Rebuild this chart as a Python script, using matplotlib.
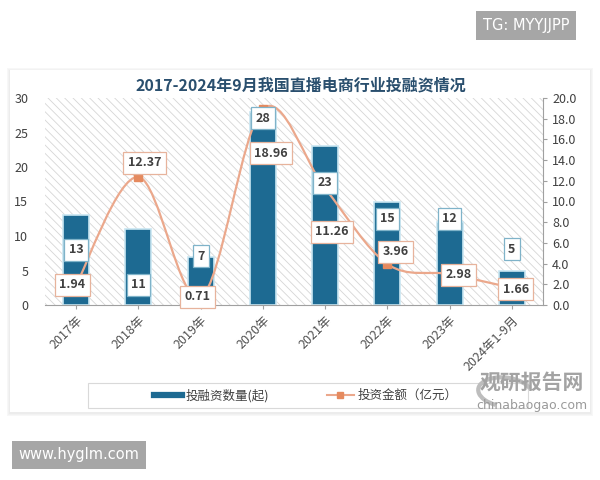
import matplotlib
matplotlib.use("Agg")
import matplotlib.pyplot as plt
from matplotlib.patches import Rectangle, Arc
from matplotlib.path import Path
from matplotlib.patches import PathPatch
from matplotlib.lines import Line2D
import numpy as np

plt.rcParams['font.family'] = ['Noto Sans CJK SC', 'DejaVu Sans']
plt.rcParams['hatch.linewidth'] = 0.6

# ---------------- data ----------------
categories = ['2017年', '2018年', '2019年', '2020年', '2021年', '2022年', '2023年', '2024年1-9月']
deal_counts = [13, 11, 7, 28, 23, 15, 12, 5]
invest_amounts = [1.94, 12.37, 0.71, 18.96, 11.26, 3.96, 2.98, 1.66]
title = '2017-2024年9月我国直播电商行业投融资情况'
legend_labels = ['投融资数量(起)', '投资金额（亿元）']

# ---------------- layout (label placement, left-axis units) ----------------
bar_label_y = [8.0, 2.9, 7.1, 27.1, 17.7, 12.5, 12.5, 8.1]
line_label_y = [2.9, 20.6, 1.2, 22.0, 10.6, 7.7, 4.35, 2.3]
line_label_dx = [-0.06, 0.10, -0.05, 0.13, 0.11, 0.13, 0.14, 0.06]

BAR_C = '#1d6a92'
LINE_C = '#eba88c'
MARK_C = '#e58a5f'
TXT_C = '#404040'

fig = plt.figure(figsize=(6, 4.8), dpi=100)
fig.patch.set_facecolor('white')

def fx(px):
    return px / 600.0

def fy(py):
    return 1 - py / 480.0

# card with soft shadow
for k, c in enumerate(['#f7f7f7', '#f2f2f2', '#ececec']):
    d = 3 - k
    fig.patches.append(Rectangle((fx(10 - d), fy(412 + d + 1)), fx(580 + 2 * d), (342 + 2 * d) / 480,
                                 transform=fig.transFigure, fc=c, ec='none', zorder=0))
fig.patches.append(Rectangle((fx(10), fy(412)), fx(580), 342 / 480, transform=fig.transFigure,
                             fc='white', ec='none', zorder=0.5))

# watermarks
fig.text(fx(526), fy(25.5), 'TG: MYYJJPP', ha='center', va='center', color='white', fontsize=10.5,
         family=['DejaVu Sans'],
         bbox=dict(boxstyle='square,pad=0.45', fc='#a6a6a6', ec='none'))
fig.text(fx(79), fy(455), 'www.hyglm.com', ha='center', va='center', color='white', fontsize=10.5,
         family=['DejaVu Sans'],
         bbox=dict(boxstyle='square,pad=0.45', fc='#a6a6a6', ec='none'))

# main axes
ax = fig.add_axes([fx(45), fy(305), fx(498), 207 / 480])
ax.set_zorder(2)
ax.patch.set_visible(False)
ax.add_patch(Rectangle((0, 0), 1, 1, transform=ax.transAxes, fc='white', ec='#d6d6d6',
                       lw=0, hatch='\\\\\\\\', zorder=0))

x = np.arange(len(categories))
ax.bar(x, deal_counts, width=0.42, color=BAR_C, edgecolor='#c9e6f2', linewidth=1.2, zorder=2)
ax.set_xlim(-0.5, len(categories) - 0.5)
ax.set_ylim(0, 30)
ax.set_yticks(np.arange(0, 31, 5))
for s in ['top', 'left', 'right']:
    ax.spines[s].set_visible(False)
ax.spines['bottom'].set_color('#a0a0a0')
ax.tick_params(axis='y', length=0, labelsize=9, colors=TXT_C, pad=12)
ax.tick_params(axis='x', length=3, color='#a0a0a0', labelsize=9, colors='#505050')
ax.set_xticks(x)
ax.set_xticklabels(categories, rotation=45, ha='right', rotation_mode='anchor')

ax2 = ax.twinx()
ax2.set_ylim(0, 20)
ax2.set_yticks(np.arange(0, 20.1, 2))
ax2.set_yticklabels([f'{v:.1f}' for v in np.arange(0, 20.1, 2)])
for s in ['top', 'left', 'bottom']:
    ax2.spines[s].set_visible(False)
ax2.spines['right'].set_color('#a0a0a0')
ax2.tick_params(axis='y', length=3, color='#a0a0a0', labelsize=9, colors=TXT_C)

# smooth line (Bezier through data points)
pts = np.column_stack([x, invest_amounts]).astype(float)
n = len(pts)
verts = [tuple(pts[0])]
codes = [Path.MOVETO]
for i in range(n - 1):
    p0 = pts[i - 1] if i > 0 else pts[i]
    p1 = pts[i]
    p2 = pts[i + 1]
    p3 = pts[i + 2] if i + 2 < n else pts[i + 1]
    c1 = p1 + (p2 - p0) / 6.0
    c2 = p2 - (p3 - p1) / 6.0
    verts += [tuple(c1), tuple(c2), tuple(p2)]
    codes += [Path.CURVE4] * 3
ax2.add_patch(PathPatch(Path(verts, codes), fc='none', ec=LINE_C, lw=1.6, zorder=3))
ax2.plot(x, invest_amounts, ls='none', marker='s', ms=6, color=MARK_C, zorder=4)

# labels
for i, v in enumerate(deal_counts):
    ax2.text(x[i], bar_label_y[i], f'{v}', transform=ax.transData, ha='center', va='center',
             fontsize=9, fontweight='bold', color=TXT_C, zorder=6,
             bbox=dict(boxstyle='square,pad=0.35', fc='white', ec='#7fb3c9', lw=0.9))
for i, v in enumerate(invest_amounts):
    ax2.text(x[i] + line_label_dx[i], line_label_y[i], f'{v:.2f}', transform=ax.transData,
             ha='center', va='center', fontsize=9, fontweight='bold', color=TXT_C, zorder=6,
             bbox=dict(boxstyle='square,pad=0.35', fc='white', ec='#e7b39c', lw=0.9))

# title
fig.text(fx(301), fy(85), title, ha='center', va='center', fontsize=11.5, fontweight='bold',
         color='#2a4f6e')

# legend frame + legend
fig.patches.append(Rectangle((fx(88), fy(408)), fx(440), 25 / 480, transform=fig.transFigure,
                             fc='white', ec='#d9d9d9', lw=0.8, zorder=2))
handles = [Line2D([0], [0], color=BAR_C, lw=4.5),
           Line2D([0], [0], color=LINE_C, lw=1.5, marker='s', ms=5, mfc=MARK_C, mec=MARK_C)]
leg = fig.legend(handles, legend_labels, loc='center', ncol=2,
                 bbox_to_anchor=(fx(306), fy(395.5)),
                 frameon=False, fontsize=9,
                 handlelength=2.2, handletextpad=0.3, borderpad=0.2, columnspacing=4.6)
for t in leg.get_texts():
    t.set_color(TXT_C)
leg.set_zorder(3)

# brand watermark
fig.patches.append(Arc((fx(505), fy(392)), 0.09, 0.06, angle=-10, theta1=20, theta2=250,
                       transform=fig.transFigure, color='#bdbdbd', lw=3, zorder=4))
fig.text(fx(532), fy(382), '观研报告网', ha='center', va='center', fontsize=15, fontweight='bold',
         color='#a3a3a3', zorder=5)
fig.text(fx(532), fy(405), 'chinabaogao.com', ha='center', va='center', fontsize=9,
         color='#9a9a9a', family=['DejaVu Sans'], zorder=5)

fig.savefig('out.png', dpi=100)
